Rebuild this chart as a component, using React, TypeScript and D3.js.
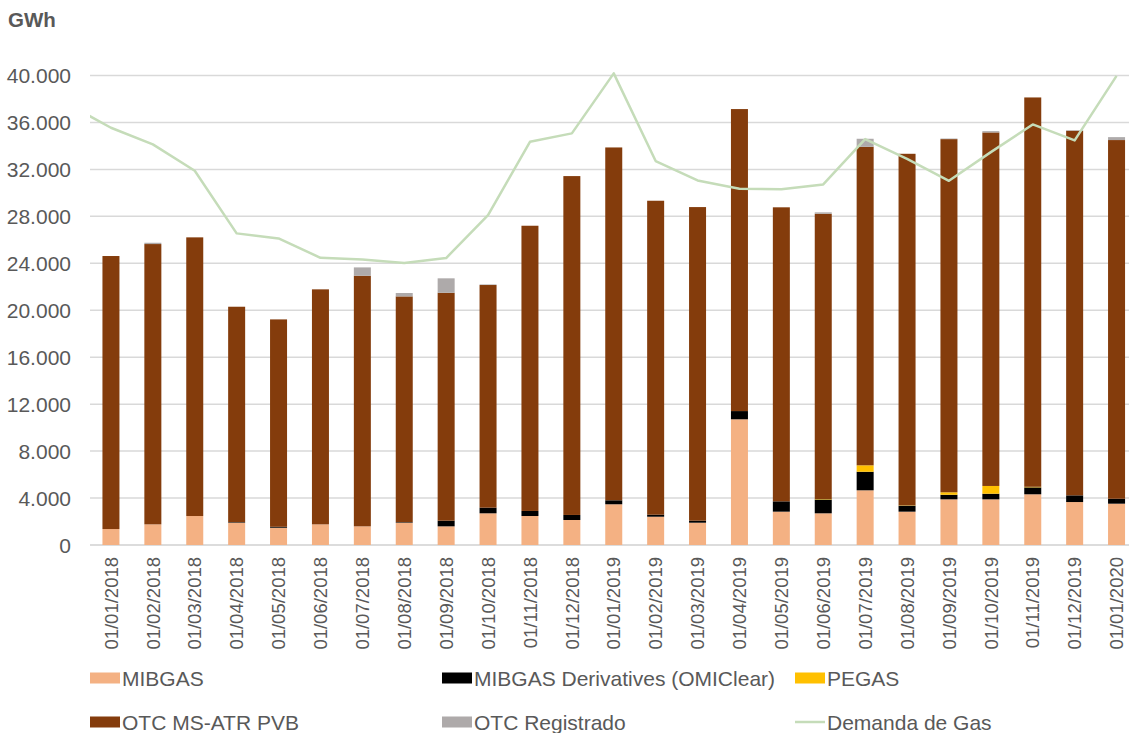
import React, { useEffect, useRef } from 'react';
import * as d3 from 'd3';

const width = 1129;
const height = 733;

const categories = [
  '01/01/2018', '01/02/2018', '01/03/2018', '01/04/2018', '01/05/2018', '01/06/2018',
  '01/07/2018', '01/08/2018', '01/09/2018', '01/10/2018', '01/11/2018', '01/12/2018',
  '01/01/2019', '01/02/2019', '01/03/2019', '01/04/2019', '01/05/2019', '01/06/2019',
  '01/07/2019', '01/08/2019', '01/09/2019', '01/10/2019', '01/11/2019', '01/12/2019',
  '01/01/2020',
];

// GWh per month
const mibgas = [1360, 1760, 2470, 1900, 1470, 1760, 1590, 1900, 1590, 2700, 2470, 2130, 3470, 2410, 1900, 10710, 2840, 2700, 4660, 2840, 3890, 3890, 4320, 3660, 3520];
const derivatives = [0, 0, 0, 50, 80, 0, 0, 50, 480, 480, 430, 430, 340, 170, 170, 700, 880, 1180, 1580, 510, 390, 480, 590, 570, 420];
const pegas = [0, 0, 0, 0, 0, 0, 0, 0, 0, 0, 0, 0, 0, 0, 0, 0, 0, 40, 550, 30, 210, 660, 50, 0, 0];
const otcMsAtr = [23260, 23880, 23740, 18350, 17670, 20020, 21350, 19230, 19420, 18970, 24300, 28870, 30060, 26750, 26720, 25730, 25050, 24300, 27140, 29950, 30090, 30120, 33170, 31060, 30560];
const otcReg = [0, 110, 0, 0, 0, 0, 710, 290, 1230, 50, 0, 0, 0, 0, 0, 0, 0, 120, 680, 0, 50, 110, 0, 50, 250];
const demand = [35550, 34130, 31880, 26550, 26120, 24470, 24330, 24020, 24450, 28100, 34350, 35070, 40180, 32710, 31060, 30350, 30300, 30720, 34580, 32900, 31030, 33470, 35830, 34470, 39970];
const demandDec2017 = 37500; // month before the first bar, line is clipped by the plot

const yTicks = [0, 4000, 8000, 12000, 16000, 20000, 24000, 28000, 32000, 36000, 40000];

const series = [
  { key: 'mibgas', name: 'MIBGAS', color: '#F4B183', values: mibgas },
  { key: 'deriv', name: 'MIBGAS Derivatives (OMIClear)', color: '#000000', values: derivatives },
  { key: 'pegas', name: 'PEGAS', color: '#FFC000', values: pegas },
  { key: 'otc', name: 'OTC MS-ATR PVB', color: '#843C0C', values: otcMsAtr },
  { key: 'reg', name: 'OTC Registrado', color: '#AEAAAA', values: otcReg },
];
const LINE_COLOR = '#C5DCB9';
const TEXT = '#595959';
const FONT = 'Liberation Sans, Arial, sans-serif';

const App = () => {
  const ref = useRef<HTMLDivElement>(null);

  useEffect(() => {
    d3.select(ref.current).selectAll('svg').remove();

    const svg = d3.select(ref.current)
      .append('svg')
      .attr('width', width)
      .attr('height', height)
      .style('position', 'absolute')
      .style('left', '0px')
      .style('top', '0px')
      .style('background', '#fff')
      .style('font-family', FONT);

    const left = 90, step = 41.9;
    const x = d3.scaleBand().domain(categories).range([left, left + step * categories.length]).padding(0);
    const barW = 17;
    const cx = (i: number) => (x(categories[i]) as number) + x.bandwidth() / 2;
    const y = d3.scaleLinear().domain([0, 40000]).range([545, 75.5]);

    const fmt = d3.formatLocale({ decimal: ',', thousands: '.', grouping: [3], currency: ['', ''] }).format(',d');

    // grid
    svg.append('g').selectAll('line')
      .data(yTicks)
      .enter()
      .append('line')
      .attr('x1', left).attr('x2', width)
      .attr('y1', d => y(d)).attr('y2', d => y(d))
      .attr('stroke', d => d === 0 ? '#d0d0d0' : '#d9d9d9')
      .attr('stroke-width', 1.5);

    svg.append('g').selectAll('text')
      .data(yTicks)
      .enter()
      .append('text')
      .attr('x', 71)
      .attr('y', d => y(d))
      .attr('dy', '0.36em')
      .attr('text-anchor', 'end')
      .attr('fill', TEXT)
      .attr('font-size', 21)
      .text(d => fmt(d));

    svg.append('text')
      .attr('x', 8).attr('y', 27)
      .attr('fill', TEXT)
      .attr('font-size', 20.5)
      .attr('font-weight', 'bold')
      .text('GWh');

    // stacked bars
    const rows = categories.map((c, i) => {
      const r: any = { cat: c };
      series.forEach(s => { r[s.key] = s.values[i]; });
      return r;
    });
    const stacked = d3.stack().keys(series.map(s => s.key))(rows);

    svg.append('g').selectAll('g')
      .data(stacked)
      .enter()
      .append('g')
      .attr('fill', (d, i) => series[i].color)
      .selectAll('rect')
      .data(d => d)
      .enter()
      .append('rect')
      .attr('x', (d: any) => (x(d.data.cat) as number) + x.bandwidth() / 2 - barW / 2)
      .attr('width', barW)
      .attr('y', d => y(d[1]))
      .attr('height', d => y(d[0]) - y(d[1]));

    // x labels
    svg.append('g').selectAll('text')
      .data(categories)
      .enter()
      .append('text')
      .attr('transform', (d, i) => `translate(${cx(i)},557) rotate(-90)`)
      .attr('dy', '0.36em')
      .attr('text-anchor', 'end')
      .attr('fill', TEXT)
      .attr('font-size', 18.5)
      .text(d => d);

    // demand line
    svg.append('clipPath').attr('id', 'plotclip')
      .append('rect').attr('x', left).attr('y', 0).attr('width', width - left).attr('height', 560);
    const pts: [number, number][] = [[cx(0) - step, y(demandDec2017)]]
      .concat(demand.map((v, i) => [cx(i), y(v)] as [number, number])) as [number, number][];
    svg.append('path')
      .attr('d', d3.line()(pts))
      .attr('clip-path', 'url(#plotclip)')
      .attr('fill', 'none')
      .attr('stroke', LINE_COLOR)
      .attr('stroke-width', 2.5)
      .attr('stroke-linejoin', 'round');

    // legend
    const legendItems = [
      { name: series[0].name, color: series[0].color, type: 'box', lx: 90, ly: 678 },
      { name: series[1].name, color: series[1].color, type: 'box', lx: 442, ly: 678 },
      { name: series[2].name, color: series[2].color, type: 'box', lx: 795, ly: 678 },
      { name: series[3].name, color: series[3].color, type: 'box', lx: 90, ly: 722 },
      { name: series[4].name, color: series[4].color, type: 'box', lx: 442, ly: 722 },
      { name: 'Demanda de Gas', color: LINE_COLOR, type: 'line', lx: 795, ly: 722 },
    ];
    const lg = svg.append('g').selectAll('g')
      .data(legendItems)
      .enter()
      .append('g')
      .attr('transform', d => `translate(${d.lx},${d.ly})`);
    lg.filter(d => d.type === 'box')
      .append('rect')
      .attr('x', 0).attr('y', -5.5).attr('width', 30).attr('height', 11)
      .attr('fill', d => d.color);
    lg.filter(d => d.type === 'line')
      .append('line')
      .attr('x1', 0).attr('x2', 30).attr('y1', 0).attr('y2', 0)
      .attr('stroke', d => d.color).attr('stroke-width', 2.5);
    lg.append('text')
      .attr('x', 32).attr('y', 0).attr('dy', '0.36em')
      .attr('fill', TEXT)
      .attr('font-size', 21)
      .text(d => d.name);
  });

  return <div ref={ref} style={{ width, height }}></div>;
};

export default App;
